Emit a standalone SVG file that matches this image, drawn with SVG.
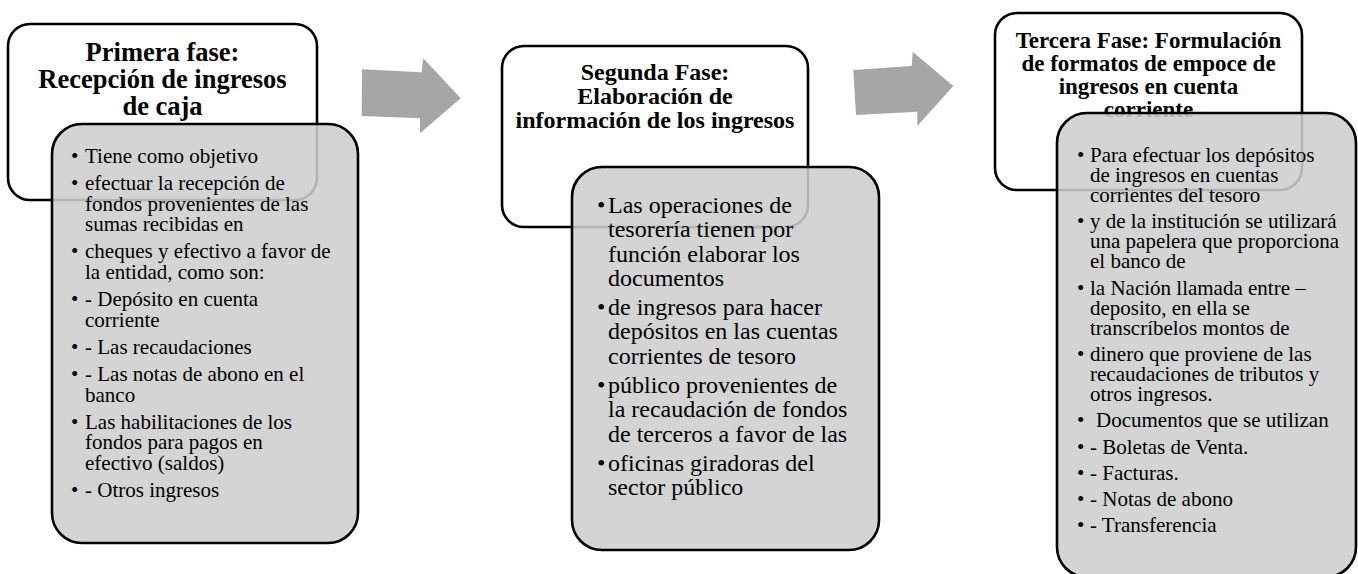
<svg xmlns="http://www.w3.org/2000/svg" width="1358" height="574" viewBox="0 0 1358 574">
<style>
.hdr{fill:#ffffff;stroke:#000;stroke-width:2.6}
.card{fill:#cecece;fill-opacity:0.875;stroke:#000;stroke-width:2.6}
.ht{font-family:"Liberation Serif","Times New Roman",serif;font-weight:bold;fill:#000;text-anchor:middle}
.bt{font-family:"Liberation Serif","Times New Roman",serif;font-size:21px;fill:#000}
.bt2{font-family:"Liberation Serif","Times New Roman",serif;font-size:24px;fill:#000}
.arrow{fill:#a6a6a6}
</style>
<rect width="1358" height="574" fill="#ffffff"/>

<g id="phase1">
<rect class="hdr" x="8" y="24" width="309" height="176" rx="22"/>
<text class="ht" font-size="26.5"><tspan x="162.5" y="61">Primera fase:</tspan><tspan x="162.5" y="88">Recepción de ingresos</tspan><tspan x="162.5" y="115">de caja</tspan></text>
</g>
<g id="phase1-details">
<rect class="card" x="52" y="124" width="306" height="419" rx="30"/>
<text class="bt">
<tspan x="71" y="163">•</tspan><tspan x="85" y="163">Tiene como objetivo</tspan>
<tspan x="71" y="190.2">•</tspan><tspan x="85" y="190.2">efectuar la recepción de</tspan>
<tspan x="85" y="210.7">fondos provenientes de las</tspan>
<tspan x="85" y="231.2">sumas recibidas en</tspan>
<tspan x="71" y="258.4">•</tspan><tspan x="85" y="258.4">cheques y efectivo a favor de</tspan>
<tspan x="85" y="278.9">la entidad, como son:</tspan>
<tspan x="71" y="306.1">•</tspan><tspan x="85" y="306.1">- Depósito en cuenta</tspan>
<tspan x="85" y="326.6">corriente</tspan>
<tspan x="71" y="353.8">•</tspan><tspan x="85" y="353.8">- Las recaudaciones</tspan>
<tspan x="71" y="381">•</tspan><tspan x="85" y="381">- Las notas de abono en el</tspan>
<tspan x="85" y="401.5">banco</tspan>
<tspan x="71" y="428.7">•</tspan><tspan x="85" y="428.7">Las habilitaciones de los</tspan>
<tspan x="85" y="449.2">fondos para pagos en</tspan>
<tspan x="85" y="469.7">efectivo (saldos)</tspan>
<tspan x="71" y="496.9">•</tspan><tspan x="85" y="496.9">- Otros ingresos</tspan>
</text>
</g>

<g id="phase2">
<rect class="hdr" x="502" y="46" width="306" height="181" rx="22"/>
<text class="ht" font-size="24"><tspan x="655" y="80">Segunda Fase:</tspan><tspan x="655" y="104">Elaboración de</tspan><tspan x="655" y="128">información de los ingresos</tspan></text>
</g>
<g id="phase2-details">
<rect class="card" x="572" y="167" width="307" height="383" rx="30"/>
<text class="bt2">
<tspan x="597" y="213">•</tspan><tspan x="608" y="213">Las operaciones de</tspan>
<tspan x="608" y="237.3">tesorería tienen por</tspan>
<tspan x="608" y="261.6">función elaborar los</tspan>
<tspan x="608" y="285.9">documentos</tspan>
<tspan x="597" y="315.1">•</tspan><tspan x="608" y="315.1">de ingresos para hacer</tspan>
<tspan x="608" y="339.4">depósitos en las cuentas</tspan>
<tspan x="608" y="363.7">corrientes de tesoro</tspan>
<tspan x="597" y="392.9">•</tspan><tspan x="608" y="392.9">público provenientes de</tspan>
<tspan x="608" y="417.2">la recaudación de fondos</tspan>
<tspan x="608" y="441.5">de terceros a favor de las</tspan>
<tspan x="597" y="470.7">•</tspan><tspan x="608" y="470.7">oficinas giradoras del</tspan>
<tspan x="608" y="495">sector público</tspan>
</text>
</g>

<g id="phase3">
<rect class="hdr" x="995" y="13" width="307" height="177" rx="22"/>
<text class="ht" font-size="23"><tspan x="1148.5" y="47.5">Tercera Fase: Formulación</tspan><tspan x="1148.5" y="70.8">de formatos de empoce de</tspan><tspan x="1148.5" y="94.1">ingresos en cuenta</tspan><tspan x="1148.5" y="117.4">corriente</tspan></text>
</g>
<g id="phase3-details">
<rect class="card" x="1057" y="113" width="299" height="464" rx="30"/>
<text class="bt">
<tspan x="1077" y="162">•</tspan><tspan x="1090" y="162">Para efectuar los depósitos</tspan>
<tspan x="1090" y="182">de ingresos en cuentas</tspan>
<tspan x="1090" y="202">corrientes del tesoro</tspan>
<tspan x="1077" y="228.3">•</tspan><tspan x="1090" y="228.3">y de la institución se utilizará</tspan>
<tspan x="1090" y="248.3">una papelera que proporciona</tspan>
<tspan x="1090" y="268.3">el banco de</tspan>
<tspan x="1077" y="294.6">•</tspan><tspan x="1090" y="294.6">la Nación llamada entre –</tspan>
<tspan x="1090" y="314.6">deposito, en ella se</tspan>
<tspan x="1090" y="334.6">transcríbelos montos de</tspan>
<tspan x="1077" y="360.9">•</tspan><tspan x="1090" y="360.9">dinero que proviene de las</tspan>
<tspan x="1090" y="380.9">recaudaciones de tributos y</tspan>
<tspan x="1090" y="400.9">otros ingresos.</tspan>
<tspan x="1077" y="427.2">•</tspan><tspan x="1096" y="427.2">Documentos que se utilizan</tspan>
<tspan x="1077" y="453.5">•</tspan><tspan x="1090" y="453.5">- Boletas de Venta.</tspan>
<tspan x="1077" y="479.8">•</tspan><tspan x="1090" y="479.8">- Facturas.</tspan>
<tspan x="1077" y="506.1">•</tspan><tspan x="1090" y="506.1">- Notas de abono</tspan>
<tspan x="1077" y="532.4">•</tspan><tspan x="1090" y="532.4">- Transferencia</tspan>
</text>
</g>

<g id="connectors">
<polygon class="arrow" points="362,69.3 421.7,72.3 423.3,58.3 460.7,98.3 420,133.3 420,118.3 361.7,116"/>
<polygon class="arrow" points="853.3,70 911.7,66 912.7,51.7 953.3,86 917.3,126 917.3,111.7 856,115"/>
</g>
</svg>
